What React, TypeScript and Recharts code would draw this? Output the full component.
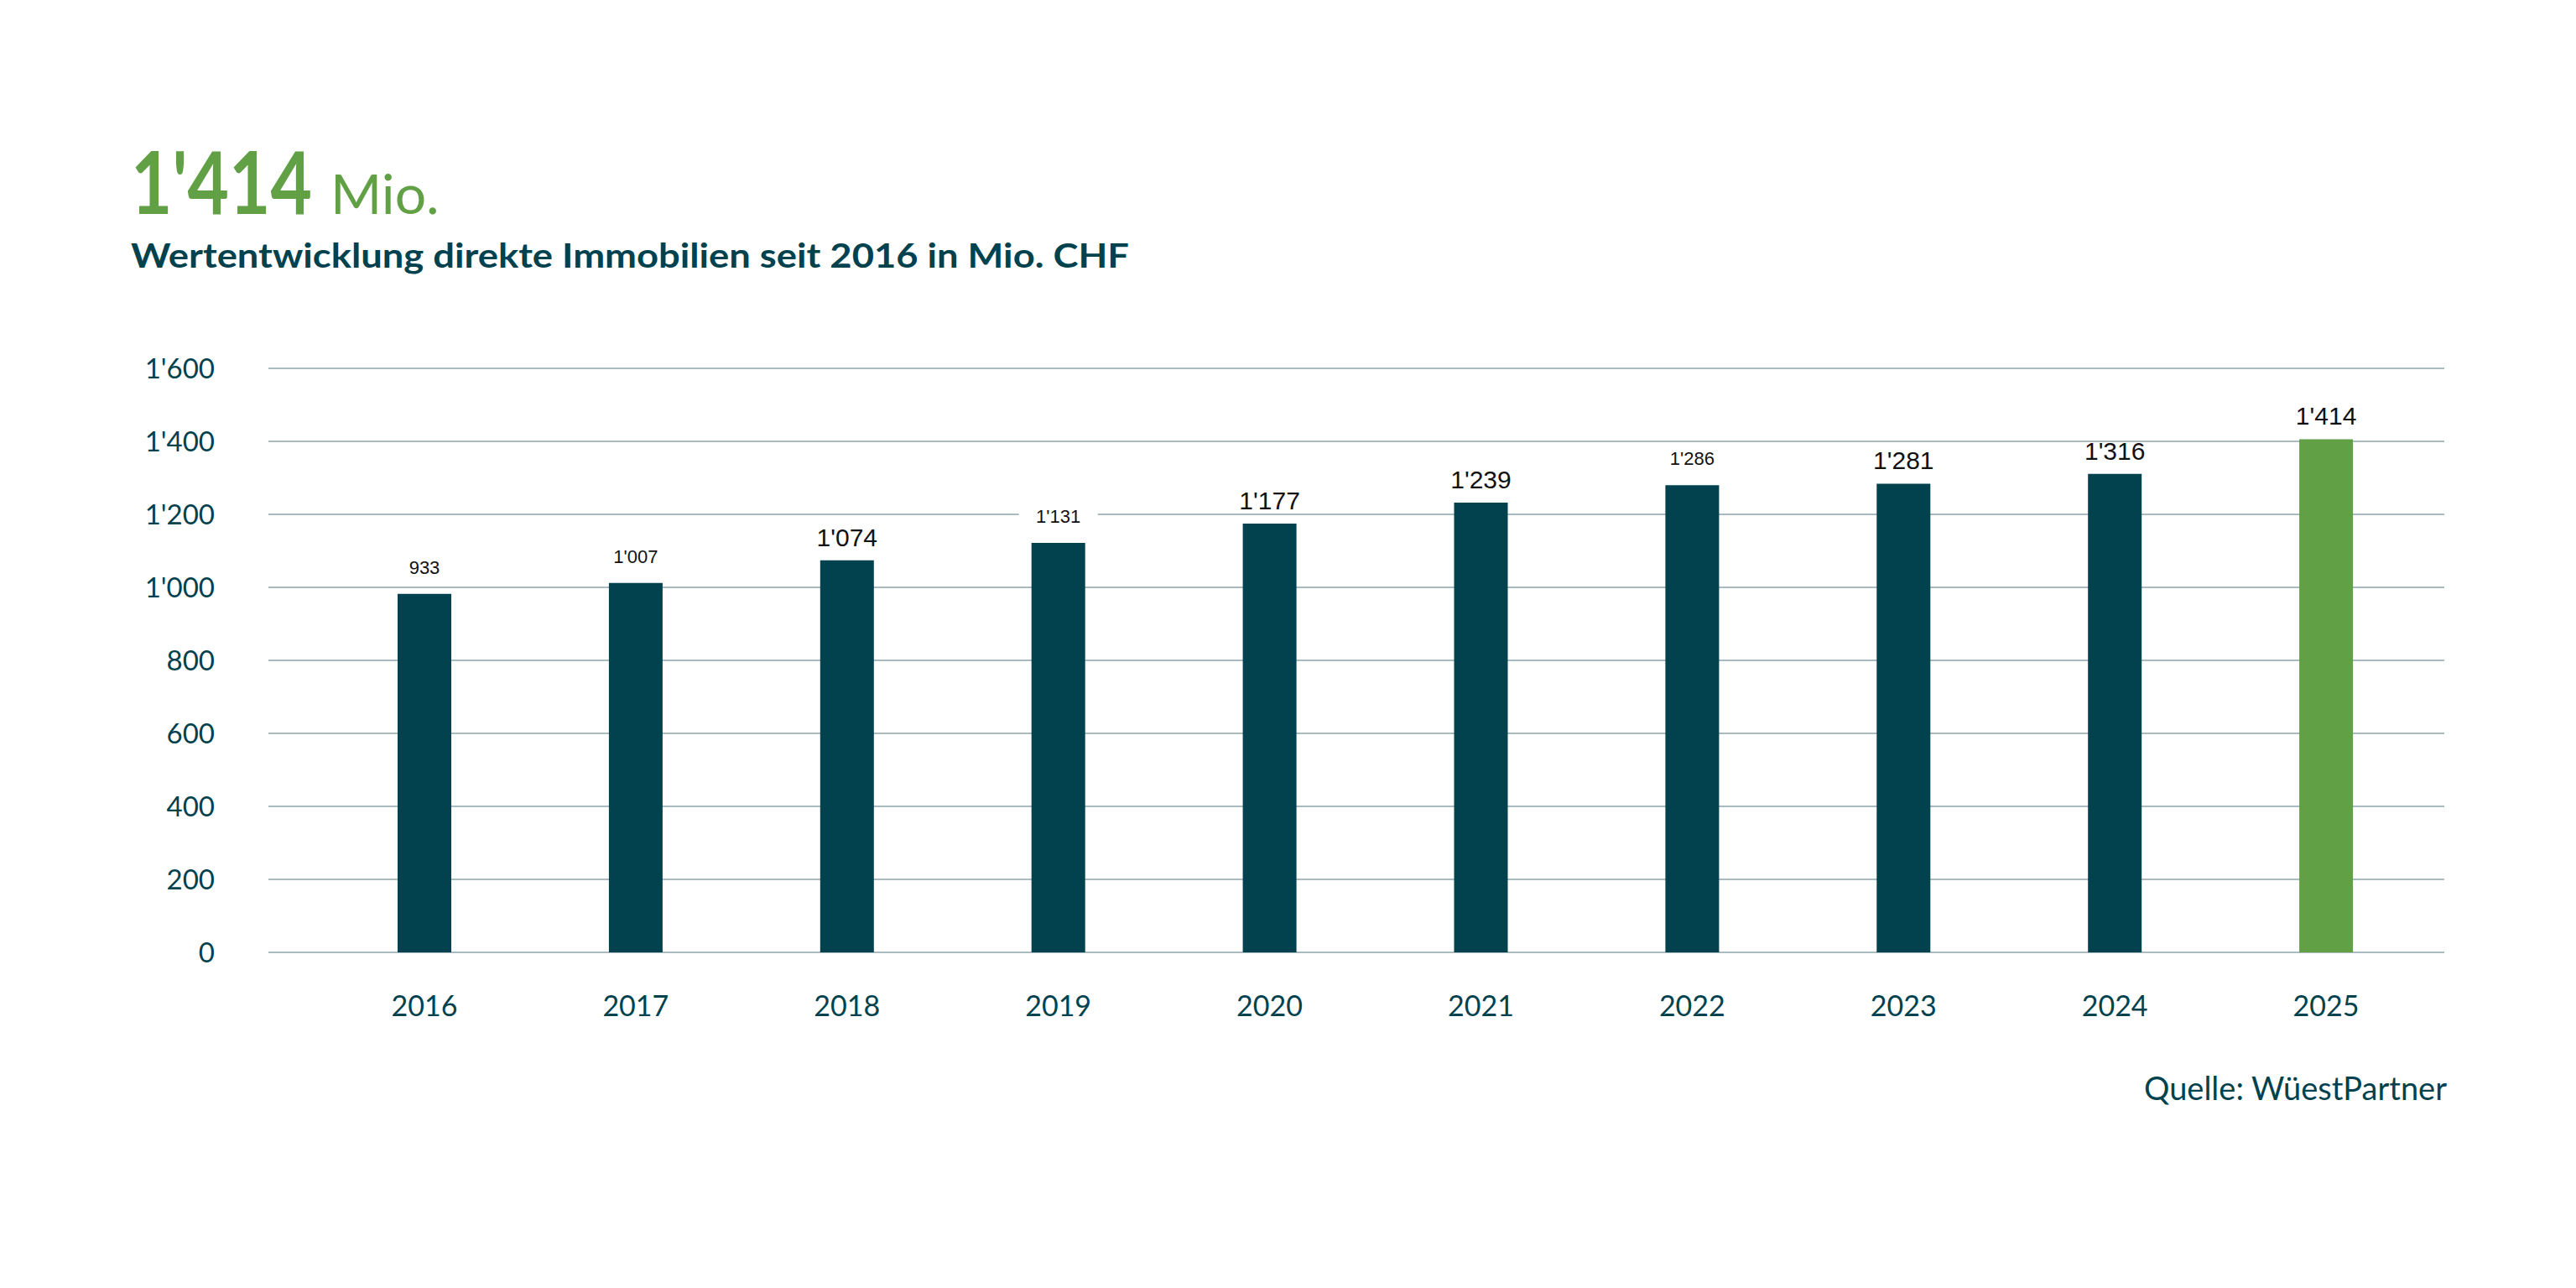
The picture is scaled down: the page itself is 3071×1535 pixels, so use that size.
import React from 'react';
import { BarChart, Bar, XAxis, YAxis, CartesianGrid, Cell, LabelList } from 'recharts';

// Years on the x axis
const YEARS = ['2016', '2017', '2018', '2019', '2020', '2021', '2022', '2023', '2024', '2025'];

// Bar heights as drawn in the picture (Mio. CHF)
const VALUES = [982, 1012, 1074, 1122, 1175, 1232, 1280, 1284, 1311, 1406];

// Printed value labels above the bars
const VALUE_LABELS = ['933', "1'007", "1'074", "1'131", "1'177", "1'239", "1'286", "1'281", "1'316", "1'414"];

const Y_TICKS = [0, 200, 400, 600, 800, 1000, 1200, 1400, 1600];

const HIGHLIGHT_YEAR = '2025';

// Labels printed in a smaller size in the original
const SMALL_LABELS = new Set(['2016', '2017', '2019', '2022']);
// Labels that sit on a white box over a grid line
const BOXED_LABELS = new Set(['2019']);

const TEAL = '#02424f';
const GREEN = '#62a046';
const GRID = '#a9bbbf';
const FONT = 'Lato, "Open Sans", sans-serif';

const W = 3071;
const H = 1535;

const fmt = (v: number) => String(v).replace(/\B(?=(\d{3})+(?!\d))/g, "'");

const data = YEARS.map((year, i) => ({ year, value: VALUES[i], label: VALUE_LABELS[i] }));

const renderValueLabel = (props: any) => {
  const { x, y, width, index } = props;
  const year = YEARS[index];
  const small = SMALL_LABELS.has(year);
  const cx = x + width / 2;
  const baseline = y - (small ? 24 : 17);
  return (
    <g>
      {BOXED_LABELS.has(year) && (
        <rect x={cx - 47} y={baseline - 21} width={94} height={28} fill="#fff" />
      )}
      <text
        x={cx}
        y={baseline}
        textAnchor="middle"
        fontFamily='"Liberation Sans", Arial, sans-serif'
        fontSize={small ? 22 : 30}
        fill="#111"
      >
        {VALUE_LABELS[index]}
      </text>
    </g>
  );
};

export default function App() {
  return (
    <div style={{ position: 'absolute', left: 0, top: 0, width: W, height: H, background: '#fff' }}>
      <BarChart
        width={W}
        height={H}
        data={data}
        margin={{ top: 439, right: 157, bottom: 300, left: 0 }}
      >
        <CartesianGrid vertical={false} stroke={GRID} strokeWidth={2} />
        <XAxis
          dataKey="year"
          axisLine={false}
          tickLine={false}
          tickSize={0}
          tickMargin={52}
          height={100}
          padding={{ left: 60, right: 15 }}
          tick={{ fill: TEAL, fontSize: 34, fontFamily: FONT }}
        />
        <YAxis
          domain={[0, 1600]}
          ticks={Y_TICKS}
          width={320}
          axisLine={false}
          tickLine={false}
          tickSize={0}
          tickMargin={64}
          tickFormatter={fmt}
          tick={{ fill: TEAL, fontSize: 33, fontFamily: FONT }}
        />
        <Bar dataKey="value" barSize={64} isAnimationActive={false}>
          {data.map((d) => (
            <Cell key={d.year} fill={d.year === HIGHLIGHT_YEAR ? GREEN : TEAL} />
          ))}
          <LabelList dataKey="label" content={renderValueLabel} />
        </Bar>
      </BarChart>
      <svg
        width={W}
        height={H}
        style={{ position: 'absolute', left: 0, top: 0, pointerEvents: 'none' }}
      >
        {/* big figure, squeezed horizontally to match the narrow original face */}
        <g transform="translate(156,255) scale(0.82,1)">
          <text x={0} y={0} fontFamily={FONT} fontWeight={700} fontSize={104} fill={GREEN}>
            1'414
          </text>
        </g>
        <text x={394} y={255} fontFamily={FONT} fontWeight={400} fontSize={66} fill={GREEN}>
          Mio.
        </text>
        <text
          x={156}
          y={319}
          fontFamily={FONT}
          fontWeight={700}
          fontSize={40}
          fill={TEAL}
          textLength={1190}
          lengthAdjust="spacingAndGlyphs"
        >
          Wertentwicklung direkte Immobilien seit 2016 in Mio. CHF
        </text>
        <text x={2917} y={1311} textAnchor="end" fontFamily={FONT} fontSize={38} fill={TEAL}>
          Quelle: WüestPartner
        </text>
      </svg>
    </div>
  );
}
